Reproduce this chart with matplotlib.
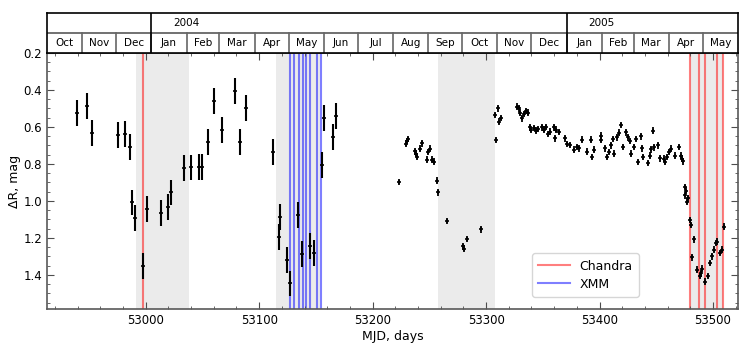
import datetime
import matplotlib
matplotlib.use('Agg')
import matplotlib.pyplot as plt
from matplotlib.ticker import MultipleLocator

matplotlib.rcParams['font.family'] = 'DejaVu Sans'
matplotlib.rcParams['font.size'] = 8.5

# early photometry (large errors)
mjd_a = [52939.7, 52948.0, 52952.9, 52976.0, 52981.4, 52985.8, 52987.8, 52990.7, 52997.5,
         53000.7, 53013.3, 53019.5, 53022.7, 53033.8, 53039.7, 53046.7, 53050.0, 53055.3,
         53060.5, 53067.2, 53079.0, 53083.4, 53088.4, 53112.5, 53117.4, 53118.0, 53124.4,
         53127.4, 53134.1, 53138.0, 53144.4, 53147.9, 53155.2, 53157.0, 53164.9, 53168.1]
mag_a = [0.524, 0.488, 0.631, 0.642, 0.640, 0.706, 1.008, 1.094, 1.353,
         1.044, 1.063, 1.031, 0.954, 0.824, 0.819, 0.815, 0.815, 0.683,
         0.461, 0.617, 0.404, 0.679, 0.497, 0.736, 1.197, 1.085, 1.321,
         1.446, 1.076, 1.285, 1.242, 1.281, 0.804, 0.552, 0.656, 0.542]
err_a = 0.07

# later photometry (small errors)
mjd_b = [53223.6, 53229.8, 53230.5, 53231.5, 53237.4, 53238.5, 53239.2, 53241.8, 53243.2,
         53248.0, 53249.0, 53250.6, 53252.0, 53254.4, 53256.4, 53257.3, 53265.2, 53279.9,
         53280.3, 53283.1, 53295.1, 53307.8, 53308.9, 53310.1, 53311.6, 53313.3, 53326.8,
         53328.6, 53330.0, 53331.5, 53333.0, 53335.0, 53337.0, 53338.8, 53340.0, 53342.0,
         53343.8, 53345.9, 53349.1, 53351.2, 53353.0, 53354.7, 53356.2, 53360.0, 53360.6,
         53362.0, 53364.0, 53369.4, 53371.7, 53374.3, 53377.6, 53379.9, 53382.0, 53384.9,
         53389.3, 53392.8, 53393.7, 53395.1, 53401.0, 53401.6, 53404.8, 53406.9, 53408.4,
         53410.0, 53412.1, 53412.7, 53415.6, 53417.5, 53418.6, 53420.6, 53423.6, 53425.0,
         53426.5, 53428.0, 53430.3, 53431.8, 53434.1, 53436.2, 53437.7, 53438.6, 53442.9,
         53444.3, 53445.7, 53446.8, 53447.7, 53451.7, 53453.2, 53456.7, 53458.1, 53459.6,
         53461.6, 53463.3, 53466.8, 53470.0, 53471.5, 53472.9, 53473.8, 53475.0, 53475.2,
         53476.6, 53477.2, 53478.0, 53479.3, 53480.2, 53481.6, 53483.1, 53485.5, 53488.1,
         53489.2, 53490.3, 53492.7, 53495.6, 53497.7, 53499.1, 53500.6, 53502.6, 53503.5,
         53506.5, 53507.9, 53510.1]
mag_b = [0.897, 0.690, 0.675, 0.665, 0.731, 0.745, 0.760, 0.718, 0.688,
         0.777, 0.736, 0.718, 0.777, 0.787, 0.890, 0.954, 1.108, 1.246,
         1.258, 1.206, 1.153, 0.535, 0.670, 0.499, 0.572, 0.552, 0.490,
         0.500, 0.522, 0.554, 0.530, 0.513, 0.522, 0.602, 0.617, 0.605,
         0.620, 0.611, 0.602, 0.615, 0.600, 0.638, 0.626, 0.602, 0.661,
         0.615, 0.628, 0.661, 0.692, 0.697, 0.722, 0.709, 0.715, 0.669,
         0.733, 0.669, 0.763, 0.722, 0.647, 0.668, 0.715, 0.763, 0.735,
         0.700, 0.665, 0.745, 0.656, 0.630, 0.590, 0.709, 0.629, 0.656,
         0.675, 0.745, 0.709, 0.665, 0.790, 0.650, 0.715, 0.763, 0.794,
         0.755, 0.720, 0.620, 0.710, 0.700, 0.770, 0.772, 0.790, 0.763,
         0.736, 0.718, 0.755, 0.709, 0.755, 0.772, 0.786, 0.924, 0.969,
         0.945, 1.004, 0.985, 1.103, 1.130, 1.305, 1.207, 1.371, 1.406,
         1.392, 1.366, 1.437, 1.406, 1.335, 1.299, 1.264, 1.228, 1.220,
         1.281, 1.264, 1.138]
err_b = 0.018

# observation epochs
chandra = [52998.0, 53480.0, 53487.5, 53492.8, 53503.6, 53509.0]
xmm = [53127.4, 53130.9, 53135.0, 53138.5, 53141.5, 53144.4, 53151.4, 53154.3]

# shaded intervals
shades = [(52991, 53038), (53115, 53154), (53258, 53308), (53480, 53509)]

months = ['Oct', 'Nov', 'Dec', 'Jan', 'Feb', 'Mar', 'Apr', 'May', 'Jun', 'Jul', 'Aug',
          'Sep', 'Oct', 'Nov', 'Dec', 'Jan', 'Feb', 'Mar', 'Apr', 'May']


def mjd(y, m, d=1):
    return (datetime.date(y, m, d) - datetime.date(1858, 11, 17)).days


# month starts from Oct 2003 to Jun 2005
starts = []
y, m = 2003, 10
for i in range(len(months) + 1):
    starts.append(mjd(y, m))
    m += 1
    if m > 12:
        m = 1
        y += 1

xmin, xmax = starts[0], starts[-1]

fig = plt.figure(figsize=(7.47, 3.5), dpi=100)
left, width = 47 / 747, 691 / 747
ax = fig.add_axes([left, 41 / 350, width, 256 / 350])
ax_top = fig.add_axes([left, 297 / 350, width, 40 / 350])

for a, b in shades:
    ax.axvspan(a, b, color='#ebebeb', lw=0, zorder=0)
for i, c in enumerate(chandra):
    ax.axvline(c, color='red', alpha=0.5, lw=1.5, zorder=1, label='Chandra' if i == 0 else None)
for i, c in enumerate(xmm):
    ax.axvline(c, color='blue', alpha=0.5, lw=1.5, zorder=1, label='XMM' if i == 0 else None)

ax.errorbar(mjd_a, mag_a, yerr=err_a, fmt='+', color='k', ms=3, mew=1.2,
            elinewidth=1.5, zorder=3)
ax.errorbar(mjd_b, mag_b, yerr=err_b, fmt='+', color='k', ms=3, mew=1.2,
            elinewidth=1.3, zorder=3)

ax.set_xlim(xmin, xmax)
ax.set_ylim(1.584, 0.2)
ax.xaxis.set_major_locator(MultipleLocator(100))
ax.xaxis.set_minor_locator(MultipleLocator(20))
ax.yaxis.set_major_locator(MultipleLocator(0.2))
ax.yaxis.set_minor_locator(MultipleLocator(0.05))
ax.tick_params(which='both', direction='in', top=True, right=True, color='0.3')
ax.tick_params(which='major', length=5)
ax.tick_params(which='minor', length=2.5)
for s in ax.spines.values():
    s.set_color('0.35')
    s.set_linewidth(1.2)
ax.set_xlabel('MJD, days', fontsize=9, labelpad=2)
ax.set_ylabel('ΔR, mag', fontsize=9, labelpad=2)
ax.legend(loc='lower left', bbox_to_anchor=(0.702, 0.047), borderaxespad=0, fontsize=9,
          handlelength=2.5, borderpad=0.5, labelspacing=0.4)

# calendar strip
ax_top.set_xlim(xmin, xmax)
ax_top.set_ylim(0, 2)
ax_top.set_xticks([])
ax_top.set_yticks([])
for s in ax_top.spines.values():
    s.set_linewidth(1.2)
ax_top.axhline(1, color='0.35', lw=1.2)
for i, name in enumerate(months):
    a, b = starts[i], starts[i + 1]
    if i > 0:
        ax_top.plot([a, a], [0, 1], color='0.4', lw=1.2)
    ax_top.text((a + b) / 2, 0.5, name, ha='center', va='center', fontsize=7.5)
for yr in [2004, 2005]:
    ax_top.plot([mjd(yr, 1), mjd(yr, 1)], [0, 2], color='k', lw=1.2)
    ax_top.text(mjd(yr, 2), 1.5, str(yr), ha='center', va='center', fontsize=7.5)

fig.savefig('out.png', dpi=100)
